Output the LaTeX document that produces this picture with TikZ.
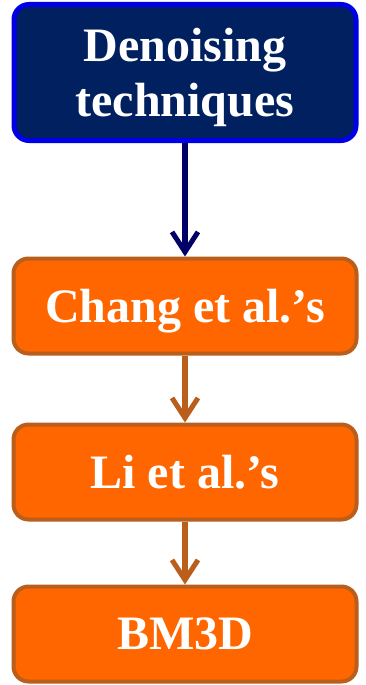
\documentclass[tikz,border=0pt]{standalone}
\usepackage{fontspec}
\setmainfont{Liberation Serif}
\usetikzlibrary{arrows.meta}
\definecolor{navyfill}{HTML}{002060}
\definecolor{blueborder}{HTML}{0000E6}
\definecolor{navyarrow}{HTML}{000066}
\definecolor{orangefill}{HTML}{FF6600}
\definecolor{brownborder}{HTML}{BA5E1C}
\tikzset{
  basebox/.style={rectangle, rounded corners=15pt, text=white,
    font=\bfseries\fontsize{48}{55}\selectfont, align=center, inner sep=0pt, text depth=0pt},
  topbox/.style={basebox, fill=navyfill, draw=blueborder, line width=5pt, minimum width=342pt, minimum height=136pt},
  stepbox/.style={basebox, fill=orangefill, draw=brownborder, line width=4pt, minimum width=343pt, minimum height=95pt},
  navyarr/.style={draw=navyarrow, line width=6pt, -{Straight Barb[length=20pt,width=26pt,line width=5pt]}},
  brownarr/.style={draw=brownborder, line width=6pt, -{Straight Barb[length=20pt,width=26pt,line width=5pt]}}
}
\begin{document}
\begin{tikzpicture}[x=1pt,y=-1pt]
\useasboundingbox (0,0) rectangle (365,685);
\node[topbox] (a) at (185,72.5) {Denoising\\techniques};
\node[stepbox] (b) at (185,306) {Chang et al.’s};
\node[stepbox] (c) at (185,472) {Li et al.’s};
\node[stepbox] (d) at (185,634) {BM3D};
\draw[navyarr] (a.south) -- (b.north);
\draw[brownarr] (b.south) -- (c.north);
\draw[brownarr] (c.south) -- (d.north);
\end{tikzpicture}
\end{document}
